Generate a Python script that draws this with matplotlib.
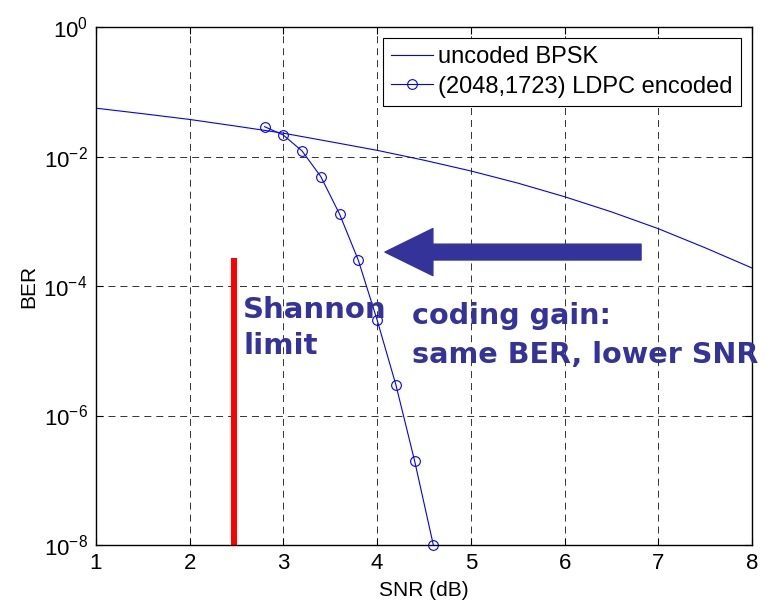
import numpy as np
import matplotlib.pyplot as plt

plt.rcParams['font.family'] = ['Liberation Sans', 'DejaVu Sans']

# uncoded BPSK curve
snr_uncoded = [1.0, 1.5, 2.0, 2.5, 3.0, 3.5, 4.0, 4.5, 5.0, 5.5, 6.0, 6.5, 7.0, 7.5, 8.0]
ber_uncoded = [5.6e-2, 4.6e-2, 3.75e-2, 2.95e-2, 2.3e-2, 1.7e-2, 1.25e-2, 8.8e-3,
               6.0e-3, 3.9e-3, 2.4e-3, 1.4e-3, 7.7e-4, 3.9e-4, 1.9e-4]

# (2048,1723) LDPC points
snr_ldpc = [2.8, 3.0, 3.2, 3.4, 3.6, 3.8, 4.0, 4.2, 4.4, 4.6]
ber_ldpc = [2.9e-2, 2.15e-2, 1.22e-2, 4.9e-3, 1.29e-3, 2.5e-4, 3.0e-5, 3.0e-6, 2.0e-7, 1.0e-8]

shannon_snr = 2.473
shannon_top = 2.7e-4

fig = plt.figure(figsize=(7.67, 6.03), dpi=100)
ax = fig.add_axes([0.125, 0.0962, 0.8555, 0.8588])

ax.semilogy(snr_uncoded, ber_uncoded, color='blue', lw=0.8, label='uncoded BPSK')
ax.semilogy(snr_ldpc, ber_ldpc, color='blue', lw=0.8, marker='o', ms=7,
            mfc='none', mec='blue', mew=0.8, label='(2048,1723) LDPC encoded', clip_on=False)

# Shannon limit
ax.plot([shannon_snr, shannon_snr], [1e-8, shannon_top], color='red', lw=4.3, solid_capstyle='butt')

ax.set_xlim(1, 8)
ax.set_ylim(1e-8, 1)
ax.set_xticks(range(1, 9))
ax.set_yticks([1e0, 1e-2, 1e-4, 1e-6, 1e-8])
ax.minorticks_off()
ax.tick_params(direction='in', top=True, right=True, labelsize=16, length=5, pad=6)
ax.grid(True, color='black', ls=(0, (7.2, 5.1)), lw=0.7, alpha=0.8)
for s in ax.spines.values():
    s.set_linewidth(1.0)

ax.set_xlabel('SNR (dB)', fontsize=15, labelpad=5)
ax.set_ylabel('BER', fontsize=15, labelpad=4)

leg = ax.legend(loc='upper right', fontsize=17, fancybox=False, framealpha=1,
                edgecolor='black', borderaxespad=0.47, handlelength=1.8,
                handletextpad=0.2, borderpad=0.35, labelspacing=0.3)
leg.get_frame().set_linewidth(0.8)

navy = '#333399'
ax.annotate('', xy=(4.084, 3.35e-4), xytext=(6.816, 3.35e-4),
            arrowprops=dict(arrowstyle='simple,head_length=1.15,head_width=1.13,tail_width=0.38',
                            color=navy, mutation_scale=30, shrinkA=0, shrinkB=0))

ax.text(2.57, 7.0e-5, 'Shannon\nlimit', color=navy, fontsize=21, fontweight='bold',
        family=['DejaVu Sans'], va='top', ha='left', linespacing=1.38)
ax.text(4.372, 5.7e-5, 'coding gain:\nsame BER, lower SNR', color=navy, fontsize=20.6,
        fontweight='bold', family=['DejaVu Sans'], va='top', ha='left', linespacing=1.5,
        clip_on=False)

fig.savefig('out.png', dpi=100)
